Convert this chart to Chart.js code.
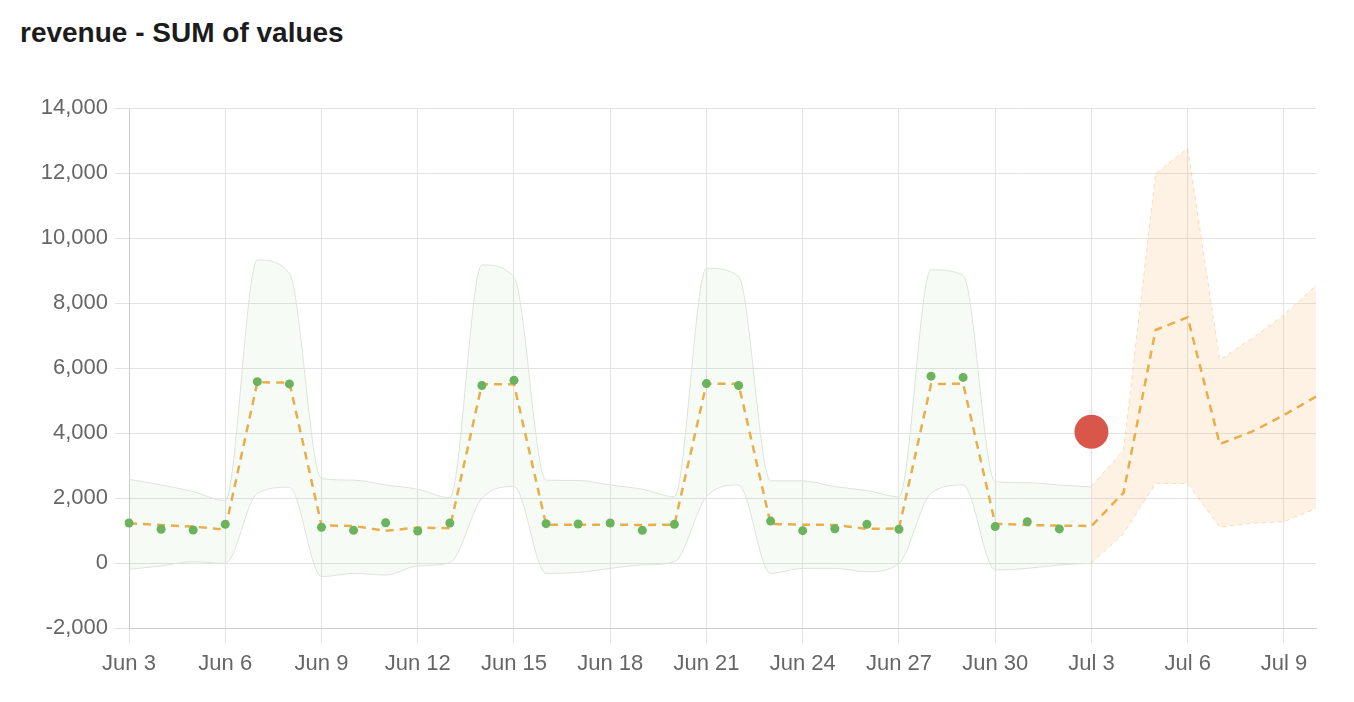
<!DOCTYPE html>
<html>
<head>
<meta charset="utf-8">
<script src="https://cdn.jsdelivr.net/npm/chart.js@4.4.1/dist/chart.umd.min.js"></script>
<style>
  html, body { margin: 0; padding: 0; background: #fff; }
  #title {
    position: absolute; left: 20px; top: 19px; margin: 0;
    font: bold 28px "Liberation Sans", Helvetica, Arial, sans-serif;
    line-height: 1; color: #1c1c1c;
  }
  #wrap { position: absolute; left: 0; top: 0; width: 1354px; height: 702px; }
</style>
</head>
<body>
<h1 id="title">revenue - SUM of values</h1>
<div id="wrap"><canvas id="revenueChart" width="1354" height="702"></canvas></div>
<script>
// one label per day, Jun 3 .. Jul 10
const days = [
    'Jun 3', 'Jun 4', 'Jun 5', 'Jun 6', 'Jun 7', 'Jun 8', 'Jun 9', 'Jun 10',
    'Jun 11', 'Jun 12', 'Jun 13', 'Jun 14', 'Jun 15', 'Jun 16', 'Jun 17', 'Jun 18',
    'Jun 19', 'Jun 20', 'Jun 21', 'Jun 22', 'Jun 23', 'Jun 24', 'Jun 25', 'Jun 26',
    'Jun 27', 'Jun 28', 'Jun 29', 'Jun 30', 'Jul 1', 'Jul 2', 'Jul 3', 'Jul 4',
    'Jul 5', 'Jul 6', 'Jul 7', 'Jul 8', 'Jul 9', 'Jul 10'
];

// actual values, Jun 3 .. Jul 2
const actual = [
    1230, 1040, 1015, 1190, 5580, 5510, 1100, 1005, 1240, 985,
    1230, 5460, 5620, 1210, 1200, 1230, 1005, 1190, 5520, 5460,
    1290, 995, 1055, 1190, 1040, 5750, 5710, 1120, 1270, 1050
];

// expected (model) line, Jun 3 .. Jul 10
const expected = [
    1220, 1170, 1120, 1030, 5560, 5550, 1160, 1140, 990, 1090,
    1070, 5500, 5500, 1180, 1180, 1180, 1170, 1180, 5520, 5510,
    1200, 1180, 1170, 1050, 1060, 5500, 5520, 1210, 1170, 1150,
    1140, 2160, 7170, 7560, 3660, 4040, 4550, 5120
];

// historical bounds, Jun 3 .. Jul 3
const boundUpper = [
    2575, 2400, 2200, 1920, 9320, 8910, 2600, 2550, 2400, 2270,
    2010, 9170, 8800, 2550, 2540, 2400, 2270, 2040, 9070, 8820,
    2530, 2530, 2350, 2230, 2040, 9020, 8850, 2500, 2470, 2400, 2340
];
const boundLower = [
    -195, -90, 40, -10, 2145, 2330, -420, -320, -370, -90,
    10, 1990, 2350, -320, -290, -165, -60, 40, 2040, 2400,
    -320, -165, -165, -270, -10, 2145, 2400, -215, -165, -60, -10
];

// forecast bounds, Jul 3 .. Jul 10
const forecastUpper = [2360, 3480, 11990, 12760, 6250, 6910, 7630, 8550];
const forecastLower = [0, 900, 2450, 2450, 1100, 1220, 1270, 1680];

// flagged point
const anomalyDay = 'Jul 3';
const anomalyValue = 4040;

const yTicks = { min: -2000, max: 14000, step: 2000 };

const n = days.length;
const pad = (arr, before) => {
    const out = Array(before).fill(null).concat(arr);
    while (out.length < n) out.push(null);
    return out;
};
const forecastStart = days.indexOf('Jul 3');
const anomaly = days.map(d => d === anomalyDay ? anomalyValue : null);

const tickFont = { family: '"Liberation Sans", Helvetica, Arial, sans-serif', size: 22 };

const ctx = document.getElementById('revenueChart').getContext('2d');
new Chart(ctx, {
    type: 'line',
    data: {
        labels: days,
        datasets: [
            {
                data: pad(boundUpper, 0),
                borderColor: '#dce5d9',
                borderWidth: 1,
                backgroundColor: 'rgba(110, 180, 95, 0.06)',
                fill: '+1',
                pointRadius: 0,
                cubicInterpolationMode: 'monotone',
                order: 6
            },
            {
                data: pad(boundLower, 0),
                borderColor: '#dce5d9',
                borderWidth: 1,
                pointRadius: 0,
                fill: false,
                cubicInterpolationMode: 'monotone',
                order: 5
            },
            {
                data: pad(forecastUpper, forecastStart),
                borderColor: 'rgba(240, 185, 110, 0.45)',
                borderWidth: 1,
                borderDash: [4, 4],
                backgroundColor: 'rgba(250, 170, 80, 0.15)',
                fill: '+1',
                pointRadius: 0,
                tension: 0,
                order: 4
            },
            {
                data: pad(forecastLower, forecastStart),
                borderColor: 'rgba(240, 185, 110, 0.45)',
                borderWidth: 1,
                borderDash: [4, 4],
                pointRadius: 0,
                fill: false,
                tension: 0,
                order: 3
            },
            {
                data: expected,
                borderColor: '#e8ae4a',
                borderWidth: 2.5,
                borderDash: [8, 6],
                pointRadius: 0,
                fill: false,
                tension: 0,
                order: 2
            },
            {
                data: pad(actual, 0),
                showLine: false,
                pointRadius: 4.5,
                pointBorderWidth: 0,
                pointBackgroundColor: '#6cb35e',
                order: 1
            },
            {
                data: anomaly,
                showLine: false,
                pointRadius: 17,
                pointBorderWidth: 0,
                pointBackgroundColor: '#d8574a',
                order: 0
            }
        ]
    },
    options: {
        responsive: false,
        animation: false,
        layout: { padding: { top: 108, right: 38, left: 0, bottom: 0 } },
        plugins: {
            legend: { display: false },
            tooltip: { enabled: false }
        },
        scales: {
            x: {
                grid: { color: '#e3e3e3', tickLength: 15 },
                border: { color: '#cccccc' },
                ticks: {
                    autoSkip: false,
                    maxRotation: 0,
                    padding: 8,
                    color: '#666',
                    font: tickFont,
                    callback: function (value, index) {
                        return index % 3 === 0 ? days[index] : null;
                    }
                },
                afterFit: scale => { scale.height = 74; }
            },
            y: {
                min: yTicks.min,
                max: yTicks.max,
                grid: { color: '#e3e3e3', tickLength: 14 },
                border: { color: '#cccccc' },
                ticks: {
                    stepSize: yTicks.step,
                    padding: 7,
                    color: '#666',
                    font: tickFont,
                    callback: v => v.toLocaleString('en-US')
                },
                afterFit: scale => { scale.width = 129; }
            }
        }
    }
});
</script>
</body>
</html>
